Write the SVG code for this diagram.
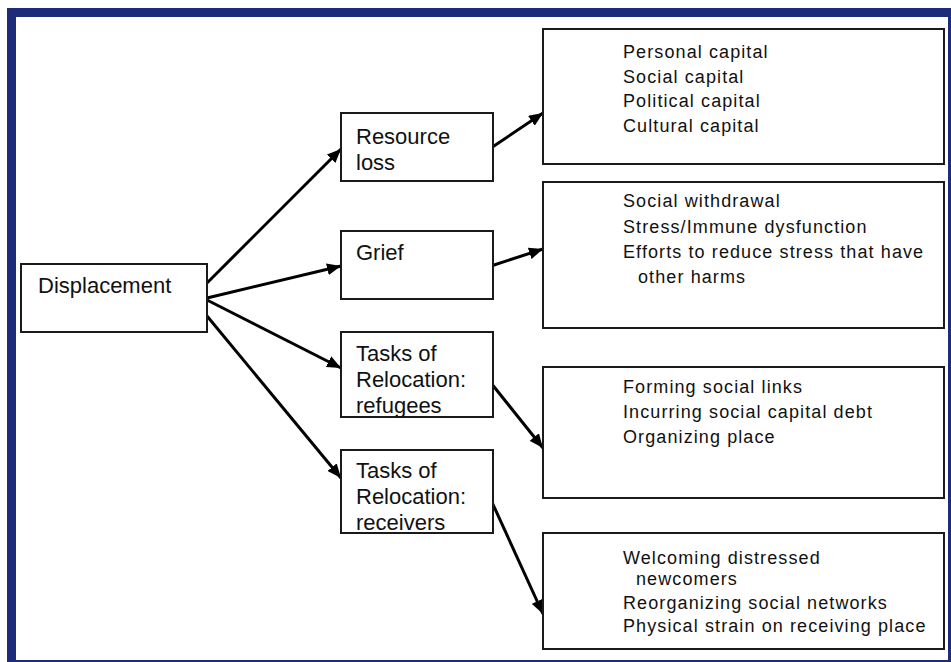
<svg xmlns="http://www.w3.org/2000/svg" width="951" height="662" viewBox="0 0 951 662">
<style>
.box{fill:#fff;stroke:#1a1a1a;stroke-width:2}
.lt{font-family:"Liberation Sans",Arial,sans-serif;font-size:22px;fill:#111}
.rt{font-family:"Liberation Sans",Arial,sans-serif;font-size:18px;letter-spacing:1.1px;fill:#111}
.con{stroke:#000;stroke-width:3;fill:none;marker-end:url(#ah)}
.frame{fill:#1d2b78}
</style>
<defs>
<marker id="ah" markerUnits="userSpaceOnUse" markerWidth="14" markerHeight="12" refX="14" refY="6" orient="auto">
<path d="M0,0 L14,6 L0,12 z" fill="#000"/>
</marker>
</defs>
<rect width="951" height="662" fill="#fff"/>
<g id="frame">
<rect class="frame" x="7" y="8" width="944" height="9"/>
<rect class="frame" x="7" y="8" width="9" height="654"/>
<rect class="frame" x="948" y="8" width="3" height="654"/>
<rect class="frame" x="7" y="660" width="944" height="2"/>
</g>
<g id="connectors">
<line class="con" x1="207" y1="283" x2="341" y2="149"/>
<line class="con" x1="207" y1="298" x2="341" y2="266"/>
<line class="con" x1="207" y1="300" x2="341" y2="368"/>
<line class="con" x1="207" y1="316" x2="341" y2="478"/>
<line class="con" x1="491" y1="148" x2="543" y2="113"/>
<line class="con" x1="491" y1="266" x2="543" y2="249"/>
<line class="con" x1="491" y1="383" x2="543" y2="448"/>
<line class="con" x1="491" y1="500" x2="543" y2="614"/>
</g>
<g id="displacement">
<rect class="box" x="21" y="264" width="186" height="68"/>
<text class="lt" x="38" y="293">Displacement</text>
</g>
<g id="resource-loss">
<rect class="box" x="341" y="113" width="152" height="68"/>
<text class="lt" x="356" y="144">Resource</text>
<text class="lt" x="356" y="170">loss</text>
</g>
<g id="grief">
<rect class="box" x="341" y="231" width="152" height="68"/>
<text class="lt" x="356" y="260">Grief</text>
</g>
<g id="tasks-refugees">
<rect class="box" x="341" y="332" width="152" height="85"/>
<text class="lt" x="356" y="361">Tasks of</text>
<text class="lt" x="356" y="387">Relocation:</text>
<text class="lt" x="356" y="413">refugees</text>
</g>
<g id="tasks-receivers">
<rect class="box" x="341" y="450" width="152" height="83"/>
<text class="lt" x="356" y="478">Tasks of</text>
<text class="lt" x="356" y="504">Relocation:</text>
<text class="lt" x="356" y="530">receivers</text>
</g>
<g id="capital">
<rect class="box" x="543" y="29" width="401" height="135"/>
<text class="rt" x="623" y="58">Personal capital</text>
<text class="rt" x="623" y="83">Social capital</text>
<text class="rt" x="623" y="107">Political capital</text>
<text class="rt" x="623" y="132">Cultural capital</text>
</g>
<g id="grief-effects">
<rect class="box" x="543" y="182" width="401" height="146"/>
<text class="rt" x="623" y="207">Social withdrawal</text>
<text class="rt" x="623" y="233">Stress/Immune dysfunction</text>
<text class="rt" x="623" y="258">Efforts to reduce stress that have</text>
<text class="rt" x="638" y="283">other harms</text>
</g>
<g id="refugee-tasks">
<rect class="box" x="543" y="367" width="401" height="131"/>
<text class="rt" x="623" y="393">Forming social links</text>
<text class="rt" x="623" y="418">Incurring social capital debt</text>
<text class="rt" x="623" y="443">Organizing place</text>
</g>
<g id="receiver-tasks">
<rect class="box" x="543" y="533" width="401" height="116"/>
<text class="rt" x="623" y="564">Welcoming distressed</text>
<text class="rt" x="636" y="585">newcomers</text>
<text class="rt" x="623" y="609">Reorganizing social networks</text>
<text class="rt" x="623" y="632">Physical strain on receiving place</text>
</g>
</svg>
